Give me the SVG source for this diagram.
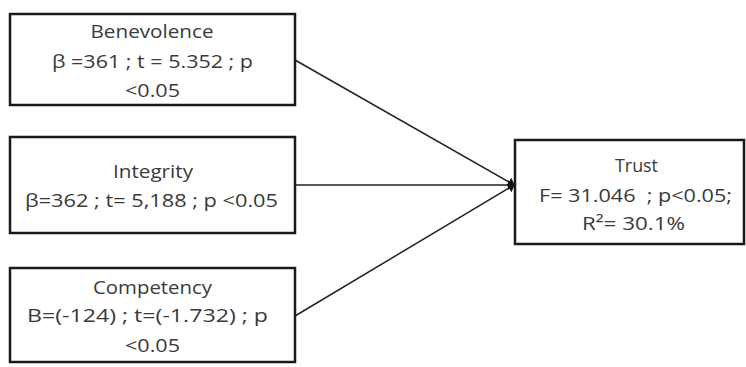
<svg xmlns="http://www.w3.org/2000/svg" width="746" height="367" viewBox="0 0 746 367">
<style>
.box{fill:#fff;stroke:#1a1a1a;stroke-width:2.5}
.t{font-family:"Open Sans","Liberation Sans",sans-serif;font-size:18.5px;fill:#3a3a3a;text-anchor:middle}
.c{stroke:#222;stroke-width:1.5;fill:none}
</style>
<defs>
<marker id="ah" markerWidth="8" markerHeight="10" refX="6" refY="5" orient="auto" markerUnits="userSpaceOnUse">
<path d="M0,0 L7,5 L0,10 z" fill="#111"/>
</marker>
</defs>
<rect width="746" height="367" fill="#fff"/>
<g id="connectors">
<line class="c" x1="295" y1="60" x2="514" y2="185" marker-end="url(#ah)"/>
<line class="c" x1="295" y1="185" x2="514" y2="185" marker-end="url(#ah)"/>
<line class="c" x1="295" y1="316" x2="514" y2="185" marker-end="url(#ah)"/>
</g>
<g id="benevolence">
<rect class="box" x="10" y="14" width="285" height="91"/>
<text class="t" x="152" y="38" textLength="123" lengthAdjust="spacingAndGlyphs">Benevolence</text>
<text class="t" x="152.5" y="68" textLength="201" lengthAdjust="spacingAndGlyphs">β =361 ; t = 5.352 ; p</text>
<text class="t" x="152.5" y="97" textLength="55" lengthAdjust="spacingAndGlyphs">&lt;0.05</text>
</g>
<g id="integrity">
<rect class="box" x="10" y="137" width="285" height="96"/>
<text class="t" x="153" y="178" textLength="80" lengthAdjust="spacingAndGlyphs">Integrity</text>
<text class="t" x="151.5" y="207" textLength="253" lengthAdjust="spacingAndGlyphs">β=362 ; t= 5,188 ; p &lt;0.05</text>
</g>
<g id="competency">
<rect class="box" x="10" y="268" width="285" height="94"/>
<text class="t" x="152.5" y="294" textLength="119" lengthAdjust="spacingAndGlyphs">Competency</text>
<text class="t" x="147.5" y="322" textLength="241" lengthAdjust="spacingAndGlyphs">B=(-124) ; t=(-1.732) ; p</text>
<text class="t" x="152.5" y="352" textLength="55" lengthAdjust="spacingAndGlyphs">&lt;0.05</text>
</g>
<g id="trust">
<rect class="box" x="515" y="140" width="229" height="104"/>
<text class="t" x="636.5" y="172" textLength="43" lengthAdjust="spacingAndGlyphs">Trust</text>
<text class="t" x="635.5" y="202" textLength="193" lengthAdjust="spacingAndGlyphs" xml:space="preserve">F= 31.046  ; p&lt;0.05;</text>
<text class="t" x="633.5" y="230" textLength="103" lengthAdjust="spacingAndGlyphs">R²= 30.1%</text>
</g>
</svg>
